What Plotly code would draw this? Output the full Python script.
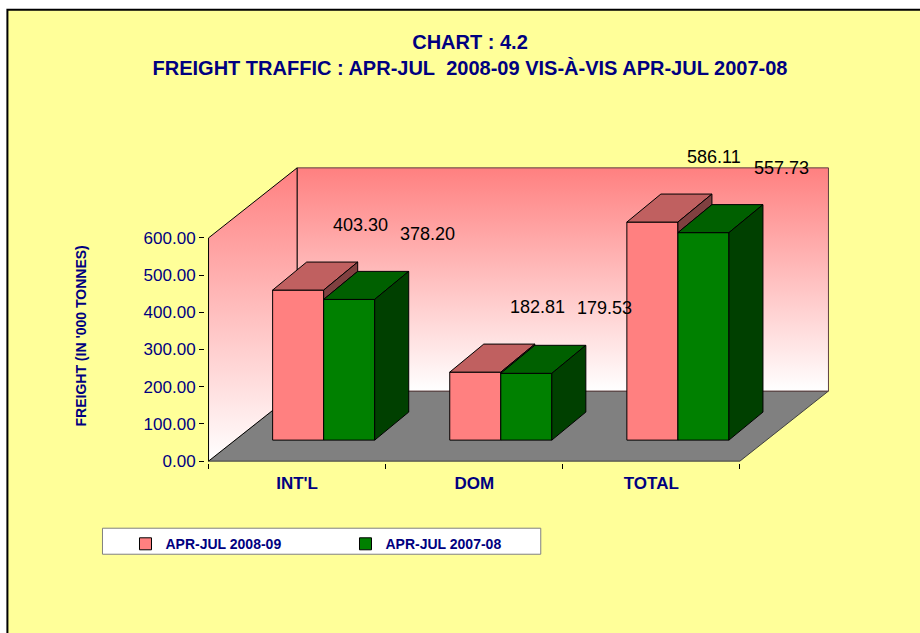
import plotly.graph_objects as go

# ---------------- data ----------------
CATEGORIES = ["INT'L", "DOM", "TOTAL"]
SERIES_NAMES = ["APR-JUL 2008-09", "APR-JUL 2007-08"]
VALUES_2008_09 = [403.30, 182.81, 586.11]
VALUES_2007_08 = [378.20, 179.53, 557.73]
Y_TICK_VALUES = [0, 100, 200, 300, 400, 500, 600]
Y_TICK_LABELS = ["0.00", "100.00", "200.00", "300.00", "400.00", "500.00", "600.00"]
TITLE_LINES = ["CHART : 4.2", "FREIGHT TRAFFIC : APR-JUL&nbsp; 2008-09 VIS-À-VIS APR-JUL 2007-08"]
Y_TITLE = "FREIGHT (IN '000 TONNES)"

# ---------------- styling / geometry ----------------
FIG_W, FIG_H = 920, 633
NAVY = "#000080"
YELLOW = "#FFFF99"
FONT = "Arial, 'Liberation Sans', sans-serif"
COLORS = {
    "front": ["#FF8080", "#008000"],
    "top": ["#C06060", "#006000"],
    "side": ["#804040", "#004000"],
}

# pixel anchors of the value axis (front plane)
X0_PX, X1_PX = 209, 740      # x = -0.5 and x = 2.5
Y0_PX, Y1_PX = 461, 238      # y = 0 and y = 600
PXX = (X1_PX - X0_PX) / 3.0
PXY = (Y0_PX - Y1_PX) / 600.0
Y_AXIS_MAX = 600

WALL_DX = 0.5                 # depth of the 3-D box, x units
WALL_DY = 70 / PXY            # depth of the 3-D box, y units
BAR_W = 51 / PXX
BAR_FRONT = 0.30              # bars' front face sits at 30% of the depth
BAR_DX = 34 / PXX
BAR_DY = 28 / PXY

X_RANGE = [-0.52, 2.5 + WALL_DX + 0.02]
Y_RANGE = [-5, Y_AXIS_MAX + WALL_DY + 5]

ML = X0_PX + (X_RANGE[0] + 0.5) * PXX
PW = (X_RANGE[1] - X_RANGE[0]) * PXX
MR = FIG_W - ML - PW
MB = FIG_H - (Y0_PX + (0 - Y_RANGE[0]) * PXY)
PH = (Y_RANGE[1] - Y_RANGE[0]) * PXY
MT = FIG_H - MB - PH


def paper_x(px):
    return (px - ML) / PW


def paper_y(py):
    return (FIG_H - MB - py) / PH


fig = go.Figure()

# ---------------- walls & floor (base subplot) ----------------
xl, xr = -0.5, 2.5
floor_x = [xl, xr, xr + WALL_DX, xl + WALL_DX, xl]
floor_y = [0, 0, WALL_DY, WALL_DY, 0]
fig.add_trace(go.Scatter(x=floor_x, y=floor_y, fill="toself", fillcolor="#808080",
                         mode="lines", line=dict(color="#404040", width=1),
                         hoverinfo="skip", showlegend=False))

back_x = [xl + WALL_DX, xr + WALL_DX, xr + WALL_DX, xl + WALL_DX, xl + WALL_DX]
back_y = [WALL_DY, WALL_DY, Y_AXIS_MAX + WALL_DY, Y_AXIS_MAX + WALL_DY, WALL_DY]
fig.add_trace(go.Scatter(x=back_x, y=back_y, fill="toself",
                         fillgradient=dict(type="vertical",
                                           colorscale=[[0, "#FFFFFF"], [1, "#FF8080"]]),
                         mode="lines", line=dict(color="#604040", width=1),
                         hoverinfo="skip", showlegend=False))

left_x = [xl, xl, xl + WALL_DX, xl + WALL_DX, xl]
left_y = [0, Y_AXIS_MAX, Y_AXIS_MAX + WALL_DY, WALL_DY, 0]
fig.add_trace(go.Scatter(x=left_x, y=left_y, fill="toself",
                         fillgradient=dict(type="vertical",
                                           colorscale=[[0, "#FFFFFF"], [1, "#FF8080"]]),
                         mode="lines", line=dict(color="#000000", width=1),
                         hoverinfo="skip", showlegend=False))

# ---------------- bars (overlay subplot) ----------------
series = [VALUES_2008_09, VALUES_2007_08]
base_y = BAR_FRONT * WALL_DY
shift_x = BAR_FRONT * WALL_DX


def bar_left(i, s):
    return i + shift_x + (s - 1) * BAR_W


# top & side faces, drawn in depth order
for s, vals in enumerate(series):
    tx, ty, sx, sy = [], [], [], []
    for i, v in enumerate(vals):
        x0 = bar_left(i, s)
        x1 = x0 + BAR_W
        yt = base_y + v
        tx += [x0, x1, x1 + BAR_DX, x0 + BAR_DX, x0, None]
        ty += [yt, yt, yt + BAR_DY, yt + BAR_DY, yt, None]
        if s == 0:
            # only the part of the side above the neighbouring bar is visible
            low = min(max(base_y + series[1][i], base_y), yt)
        else:
            low = base_y
        sx += [x1, x1, x1 + BAR_DX, x1 + BAR_DX, x1, None]
        sy += [low, yt, yt + BAR_DY, low + BAR_DY, low, None]
    fig.add_trace(go.Scatter(x=tx, y=ty, fill="toself", fillcolor=COLORS["top"][s],
                             mode="lines", line=dict(color="#000000", width=1),
                             xaxis="x2", yaxis="y2", hoverinfo="skip", showlegend=False))
    fig.add_trace(go.Scatter(x=sx, y=sy, fill="toself", fillcolor=COLORS["side"][s],
                             mode="lines", line=dict(color="#000000", width=1),
                             xaxis="x2", yaxis="y2", hoverinfo="skip", showlegend=False))

for s, vals in enumerate(series):
    centers = [bar_left(i, s) + BAR_W / 2 for i in range(len(vals))]
    fig.add_trace(go.Bar(x=centers, y=vals, base=base_y, width=BAR_W,
                         name=SERIES_NAMES[s],
                         marker=dict(color=COLORS["front"][s],
                                     line=dict(color="#000000", width=1)),
                         xaxis="x2", yaxis="y2"))

# data labels
LABEL_XSHIFT = [62, 78]
LABEL_YSHIFT = 65
for s, vals in enumerate(series):
    for i, v in enumerate(vals):
        fig.add_annotation(x=bar_left(i, s) + BAR_W / 2, y=base_y + v,
                           xref="x", yref="y", text=f"{v:.2f}", showarrow=False,
                           xshift=LABEL_XSHIFT[s], yshift=LABEL_YSHIFT,
                           font=dict(family=FONT, size=18, color="#000000"))

# y-axis title
fig.add_annotation(x=paper_x(82), y=paper_y(336), xref="paper", yref="paper",
                   xanchor="center", yanchor="middle",
                   text=f"<b>{Y_TITLE}</b>", textangle=-90, showarrow=False,
                   font=dict(family=FONT, size=14, color=NAVY))

# background & legend box
fig.add_shape(type="rect", xref="paper", yref="paper", layer="below",
              x0=paper_x(8), x1=paper_x(FIG_W + 40), y0=paper_y(10), y1=paper_y(FIG_H + 40),
              fillcolor=YELLOW, line=dict(color="#000000", width=2))
fig.add_shape(type="rect", xref="paper", yref="paper", layer="below",
              x0=paper_x(103), x1=paper_x(541), y0=paper_y(528), y1=paper_y(554),
              fillcolor="#FFFFFF", line=dict(color="#808080", width=1))

fig.update_layout(
    width=FIG_W, height=FIG_H,
    margin=dict(l=ML, r=MR, t=MT, b=MB, pad=0, autoexpand=False),
    paper_bgcolor="#FFFFFF", plot_bgcolor="rgba(0,0,0,0)",
    barmode="overlay",
    title=dict(text="<b>" + TITLE_LINES[0] + "</b><br><b>" + TITLE_LINES[1] + "</b>",
               x=470 / FIG_W, xanchor="center", xref="container",
               y=1 - 49 / FIG_H, yanchor="top", yref="container",
               font=dict(family=FONT, size=20, color=NAVY)),
    xaxis=dict(range=X_RANGE, showgrid=False, zeroline=False, showline=False,
               tickmode="array", tickvals=list(range(len(CATEGORIES))),
               ticktext=[f"<b>{c}</b>" for c in CATEGORIES], ticks="",
               ticklabelstandoff=8,
               tickfont=dict(family=FONT, size=17, color=NAVY),
               minor=dict(tickmode="array", tickvals=[-0.5, 0.5, 1.5, 2.5],
                          ticks="outside", ticklen=5, tickcolor="#000000", tickwidth=1),
               fixedrange=True),
    yaxis=dict(range=Y_RANGE, showgrid=False, zeroline=False, showline=False,
               tickmode="array", tickvals=Y_TICK_VALUES, ticktext=Y_TICK_LABELS,
               ticks="outside", ticklen=5, tickcolor="#000000", tickwidth=1,
               tickfont=dict(family=FONT, size=17, color=NAVY), fixedrange=True),
    xaxis2=dict(range=X_RANGE, overlaying="x", visible=False, fixedrange=True),
    yaxis2=dict(range=Y_RANGE, overlaying="y", visible=False, fixedrange=True),
    legend=dict(orientation="h", x=paper_x(126), xanchor="left",
                y=paper_y(528), yanchor="top", bgcolor="rgba(0,0,0,0)", borderwidth=0,
                entrywidth=175, entrywidthmode="pixels",
                font=dict(family=FONT, size=14, color=NAVY, weight="bold")),
    hovermode=False,
)

fig.write_html("out.html", config={"displayModeBar": False},
               post_script="document.body.style.margin='0';document.body.style.overflow='hidden';")
